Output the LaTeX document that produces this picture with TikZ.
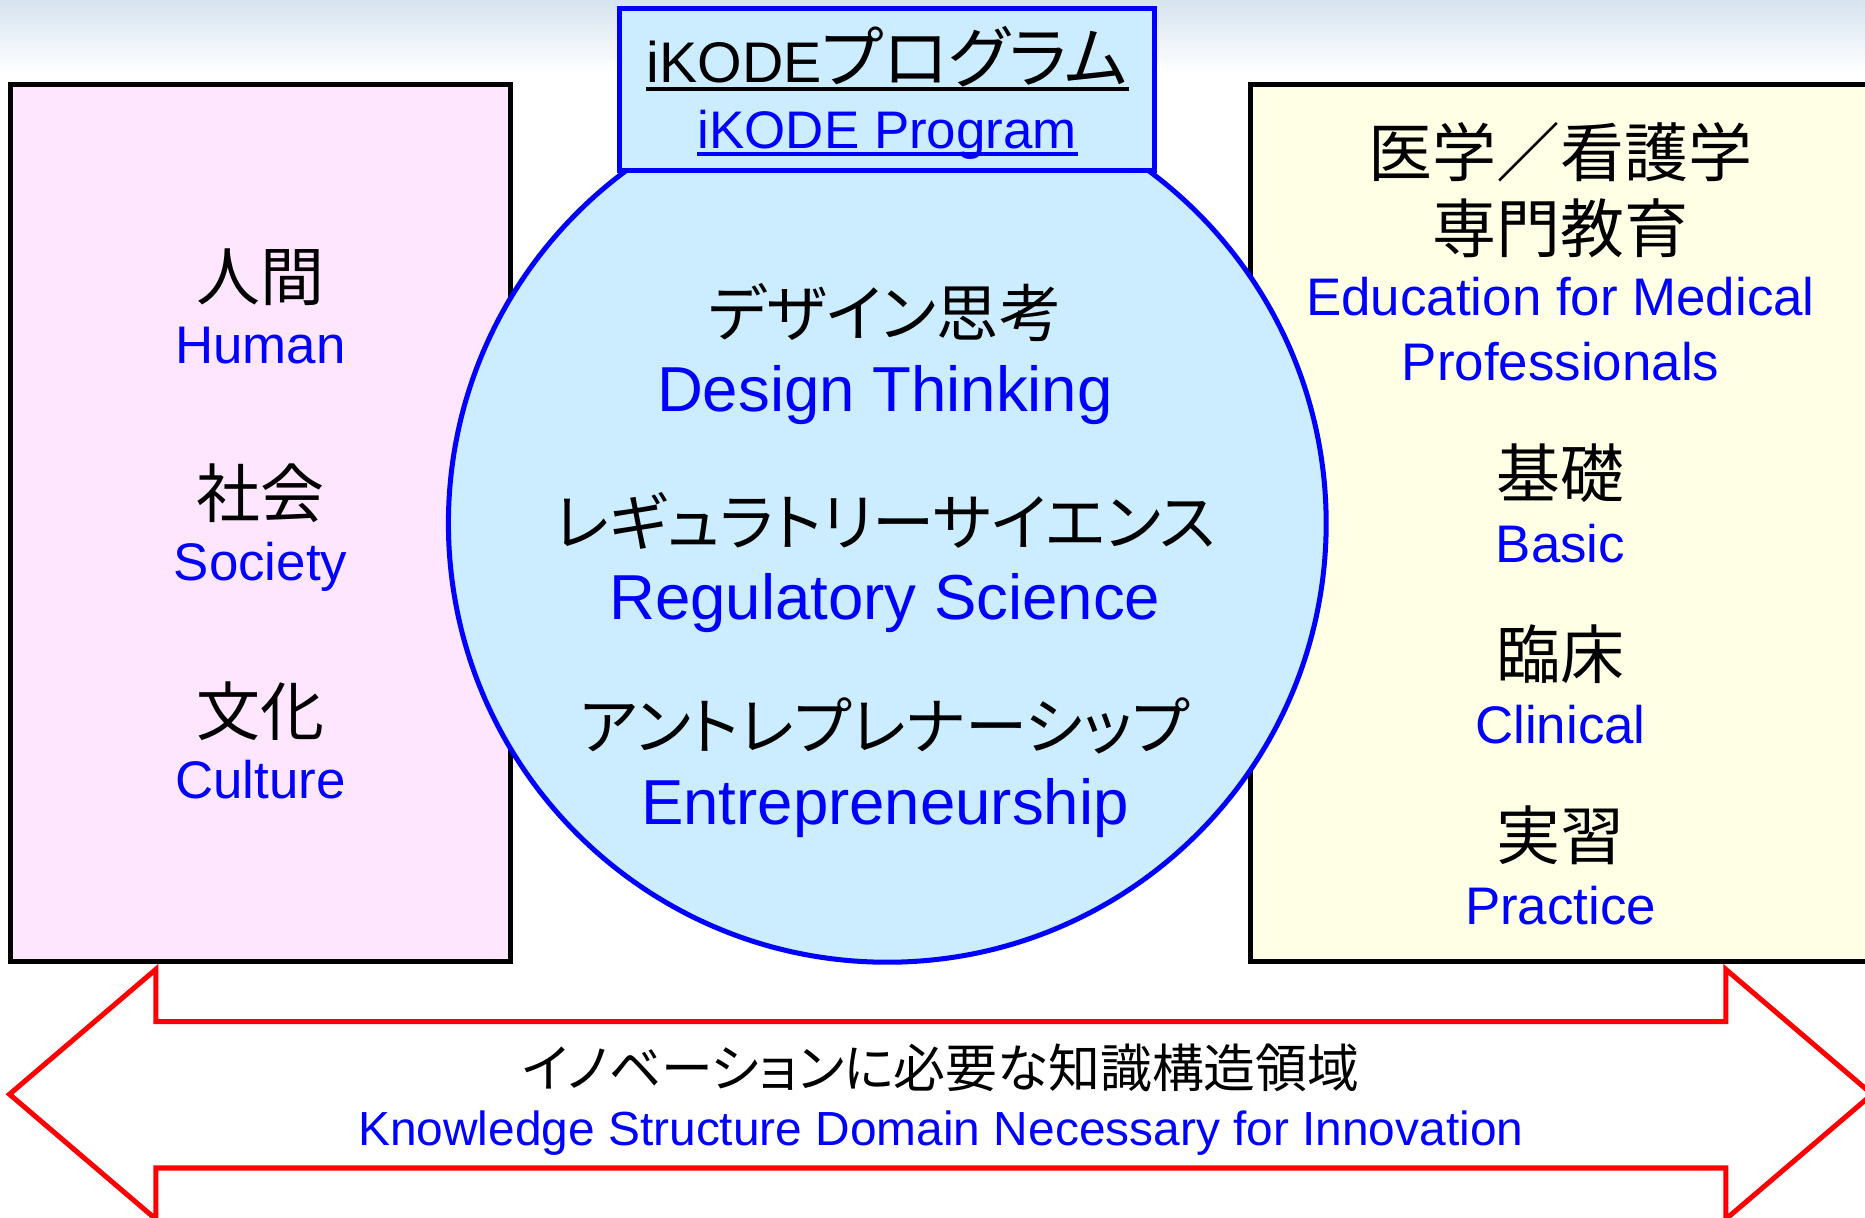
\documentclass[tikz,border=0pt]{standalone}
\usepackage{fontspec}
\setmainfont{Liberation Sans}
\newfontfamily\jpfont{Noto Sans CJK JP}
\newfontfamily\kanafont{Noto Sans CJK JP}[RawFeature=+palt]
\usepackage{xcolor}
\usepackage{tikz}
\definecolor{haze}{RGB}{214,227,240}
\definecolor{petal}{RGB}{255,230,255}
\definecolor{cream}{RGB}{255,255,230}
\definecolor{sky}{RGB}{204,236,255}
\definecolor{ink}{RGB}{0,0,255}
\definecolor{signal}{RGB}{255,0,0}

\begin{document}
\begin{tikzpicture}[x=0.1mm, y=-0.1mm,
  jplabel/.style={inner sep=0pt, font=\jpfont\fontsize{15.3pt}{18pt}\selectfont},
  kanalabel/.style={inner sep=0pt, font=\kanafont\fontsize{14.9pt}{18pt}\selectfont},
  enlabel/.style={inner sep=0pt, anchor=base, text=ink, font=\fontsize{12.65pt}{15pt}\selectfont},
  biglabel/.style={enlabel, font=\fontsize{15.2pt}{18pt}\selectfont}]
\useasboundingbox (0,0) rectangle (1568,1024);
\shade[top color=haze, bottom color=white] (0,0) rectangle (1568,62);
\draw[black, line width=1.2pt, fill=petal] (9,71) rectangle (429,808);
\draw[black, line width=1.2pt, fill=cream] (1051,71) rectangle (1600,808);
\draw[ink, line width=1.2pt, fill=sky] (746,440) circle[radius=369];
\draw[ink, line width=1.2pt, fill=sky] (521,7) rectangle (971,143);

% title
\node[inner sep=0pt, anchor=base] (ttlj) at (746,69) {\fontsize{13.7pt}{15pt}\selectfont iKODE{\kanafont\fontsize{16pt}{16pt}\selectfont プログラム}};
\node[enlabel] (ttle) at (746,124.6) {iKODE Program};
\draw[black, line width=1pt] ([yshift=-0.6mm]ttlj.base west) -- ([yshift=-0.6mm]ttlj.base east);
\draw[ink, line width=1pt] ([yshift=-0.5mm]ttle.base west) -- ([yshift=-0.5mm]ttle.base east);

% left column
\foreach \y/\jp/\en [count=\i] in {233/人間/Human, 415/社会/Society, 598/文化/Culture} {
    \node[jplabel] (lj\i) at (219,\y) {\jp};
    \node[enlabel] (le\i) at (219,\y+73) {\en};
}

% circle
\foreach \y/\jp/\en [count=\i] in {263/デザイン思考/Design Thinking, 438/レギュラトリーサイエンス/Regulatory Science, 610/アントレプレナーシップ/Entrepreneurship} {
    \node[kanalabel] (cj\i) at (744,\y) {\jp};
    \node[biglabel] (ce\i) at (744,\y+83) {\en};
}

% right column
\node[jplabel] (rj1) at (1312,128) {医学／看護学};
\node[jplabel] (rj2) at (1312,192) {専門教育};
\node[enlabel] (re1) at (1312,265) {Education for Medical};
\node[enlabel] (re2) at (1312,320) {Professionals};
\foreach \y/\jp/\en [count=\i from 3] in {398/基礎/Basic, 550/臨床/Clinical, 702/実習/Practice} {
    \node[jplabel] (rj\i) at (1312,\y) {\jp};
    \node[enlabel] (re\i) at (1312,\y+75) {\en};
}

% arrow
\draw[signal, line width=1.2pt, fill=white] (8,920) -- (131,815) -- (131,859) -- (1451,859) -- (1451,815) -- (1574,920)
    -- (1451,1025) -- (1451,982) -- (131,982) -- (131,1025) -- cycle;
\node[kanalabel, font=\kanafont\fontsize{12.4pt}{15pt}\selectfont] (aj) at (791,898) {イノベーションに必要な知識構造領域};
\node[enlabel, font=\fontsize{11.45pt}{14pt}\selectfont] (ae) at (791,963) {Knowledge Structure Domain Necessary for Innovation};
\end{tikzpicture}
\end{document}
